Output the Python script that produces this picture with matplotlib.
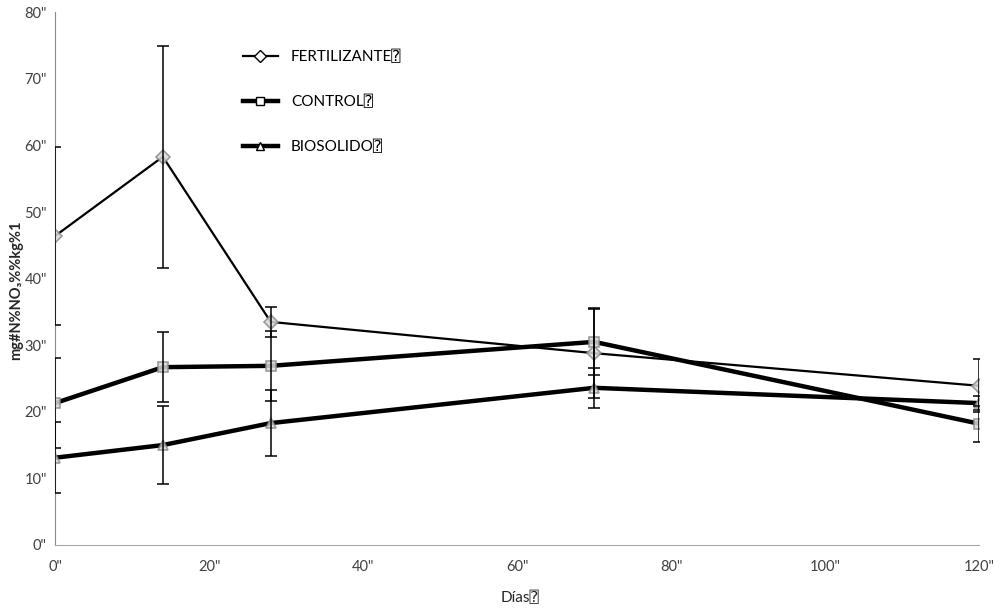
import numpy as np
import matplotlib.pyplot as plt
from matplotlib.lines import Line2D

plt.rcParams['font.family'] = ['Lato', 'DejaVu Sans', 'DejaVu Sans Mono']

# sampling days
dias = [0, 14, 28, 70, 120]

# N-NO3 (mg/kg) and error bar half-widths
fertilizante = [46.4, 58.3, 33.5, 28.8, 23.9]
fert_err = [13.3, 16.7, 2.2, 6.8, 4.0]
control = [21.3, 26.7, 26.9, 30.5, 18.2]
control_err = [6.8, 5.3, 5.3, 5.0, 2.7]
biosolido = [13.1, 15.0, 18.3, 23.6, 21.3]
bio_err = [5.3, 5.8, 5.0, 3.0, 1.0]

xticks = [0, 20, 40, 60, 80, 100, 120]
yticks = [0, 10, 20, 30, 40, 50, 60, 70, 80]

fig = plt.figure(figsize=(9.95, 6.13), dpi=100)
ax = fig.add_axes([0.0553, 0.111, 0.929, 0.869])

series = [
    (fertilizante, fert_err, 'D', 1.6, 'FERTILIZANTE\u2370'),
    (control, control_err, 's', 3.2, 'CONTROL\u2370'),
    (biosolido, bio_err, '^', 3.2, 'BIOSOLIDO\u2370'),
]

handles = []
for vals, err, mk, lw, lab in series:
    ax.plot(dias, vals, color='black', lw=lw, zorder=2)
    ax.plot(dias, vals, ls='none', marker=mk, ms=7, mfc='#d9d9d9',
            mec='#8c8c8c', mew=1.2, alpha=0.85, zorder=3)
    ax.errorbar(dias, vals, yerr=err, fmt='none', ecolor='black',
                elinewidth=1.1, capsize=4, capthick=1.1, zorder=4)
    handles.append(Line2D([], [], color='black', lw=lw, marker=mk, ms=6,
                          mfc='white', mec='black', mew=1.0, label=lab))

ax.set_xlim(0, 120)
ax.set_ylim(0, 80)
ax.set_xticks(xticks)
ax.set_xticklabels([f'{v}"' for v in xticks])
ax.set_yticks(yticks)
ax.set_yticklabels([f'{v}"' for v in yticks])
ax.tick_params(axis='both', length=0, labelsize=10.5, colors='#404040')
ax.tick_params(axis='x', pad=11)
ax.tick_params(axis='y', pad=6)

for side in ['top', 'right']:
    ax.spines[side].set_visible(False)
ax.spines['left'].set_color('#8c8c8c')
ax.spines['bottom'].set_color('#a6a6a6')

fig.text(0.523, 1 - 598 / 613, 'Días\u2370', fontsize=11, color='#262626',
         ha='center', va='center')
fig.text(0.016, 0.527, 'mg#N%NO\u2083%%kg%1', rotation=90, fontsize=10.5,
         fontweight='bold', ha='center', va='center', color='#262626')

ax.legend(handles=handles, loc='upper left', frameon=False,
          bbox_to_anchor=(0.244, 0.918), bbox_transform=fig.transFigure,
          fontsize=11, labelspacing=2.0, handlelength=2.3,
          handletextpad=0.85, borderpad=0, borderaxespad=0)

fig.savefig('out.png', dpi=100)
